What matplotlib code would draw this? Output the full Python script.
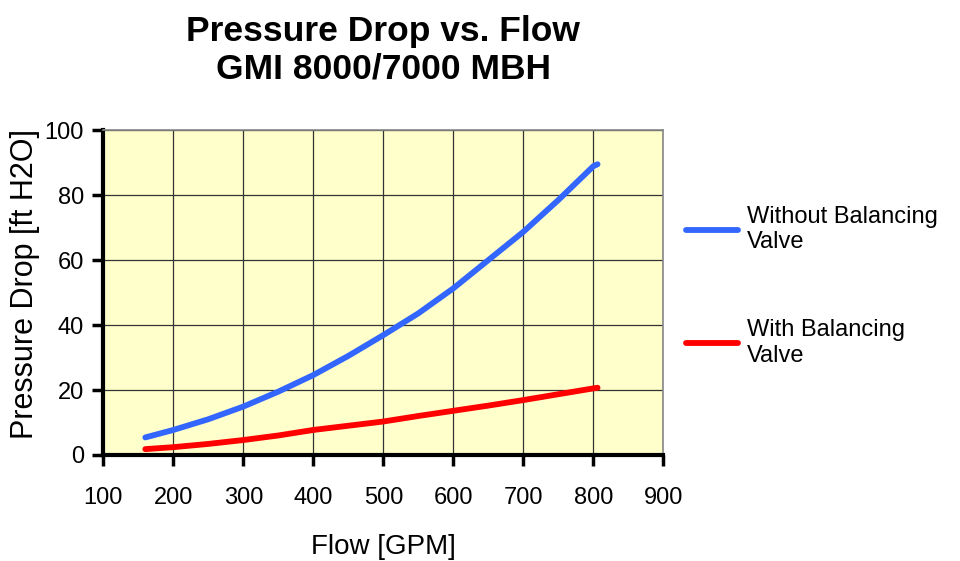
import matplotlib.pyplot as plt
import numpy as np

plt.rcParams['font.family'] = ['Liberation Sans', 'DejaVu Sans']

flow = [160, 200, 250, 300, 350, 400, 450, 500, 550, 600, 650, 700, 750, 800, 806]
without_valve = [5.4, 7.7, 11.0, 14.9, 19.5, 24.6, 30.5, 36.9, 43.6, 51.3, 60.0, 68.7, 78.5, 88.9, 89.5]
with_valve = [1.8, 2.4, 3.4, 4.6, 6.0, 7.7, 9.0, 10.3, 12.0, 13.6, 15.2, 16.9, 18.7, 20.5, 20.7]

fig = plt.figure(figsize=(9.6, 5.61), dpi=100)
ax = fig.add_axes([0.1076, 0.189, 0.5834, 0.579])
ax.set_facecolor('#FFFFCC')

ax.plot(flow, without_valve, color='#3366FF', lw=4.2, solid_capstyle='round', label='Without Balancing\nValve')
ax.plot(flow, with_valve, color='#FF0000', lw=4.2, solid_capstyle='round', label='With Balancing\nValve')

ax.set_xlim(100, 900)
ax.set_ylim(0, 100)
ax.set_xticks(np.arange(100, 901, 100))
ax.set_yticks(np.arange(0, 101, 20))
ax.grid(True, color='#333333', lw=0.9)
ax.set_axisbelow(True)

for s in ['top', 'right']:
    ax.spines[s].set_color('#888888')
    ax.spines[s].set_linewidth(1.2)
for s in ['left', 'bottom']:
    ax.spines[s].set_color('black')
    ax.spines[s].set_linewidth(3)

ax.tick_params(direction='out', length=8, width=2.5, labelsize=17, pad=6)
ax.tick_params(axis='x', pad=15)

ax.set_xlabel('Flow [GPM]', fontsize=20, labelpad=18)
ax.set_ylabel('Pressure Drop [ft H2O]', fontsize=22, va='center')
ax.yaxis.set_label_coords(-0.14, 0.526)
ax.set_title('Pressure Drop vs. Flow\nGMI 8000/7000 MBH', fontsize=25.5, fontweight='bold', pad=37)

fig.legend(loc='center left', bbox_to_anchor=(0.692, 0.49), frameon=False,
           fontsize=17, handlelength=2.2, labelspacing=2.8, handletextpad=0.4)

plt.savefig('out.png', dpi=100)
